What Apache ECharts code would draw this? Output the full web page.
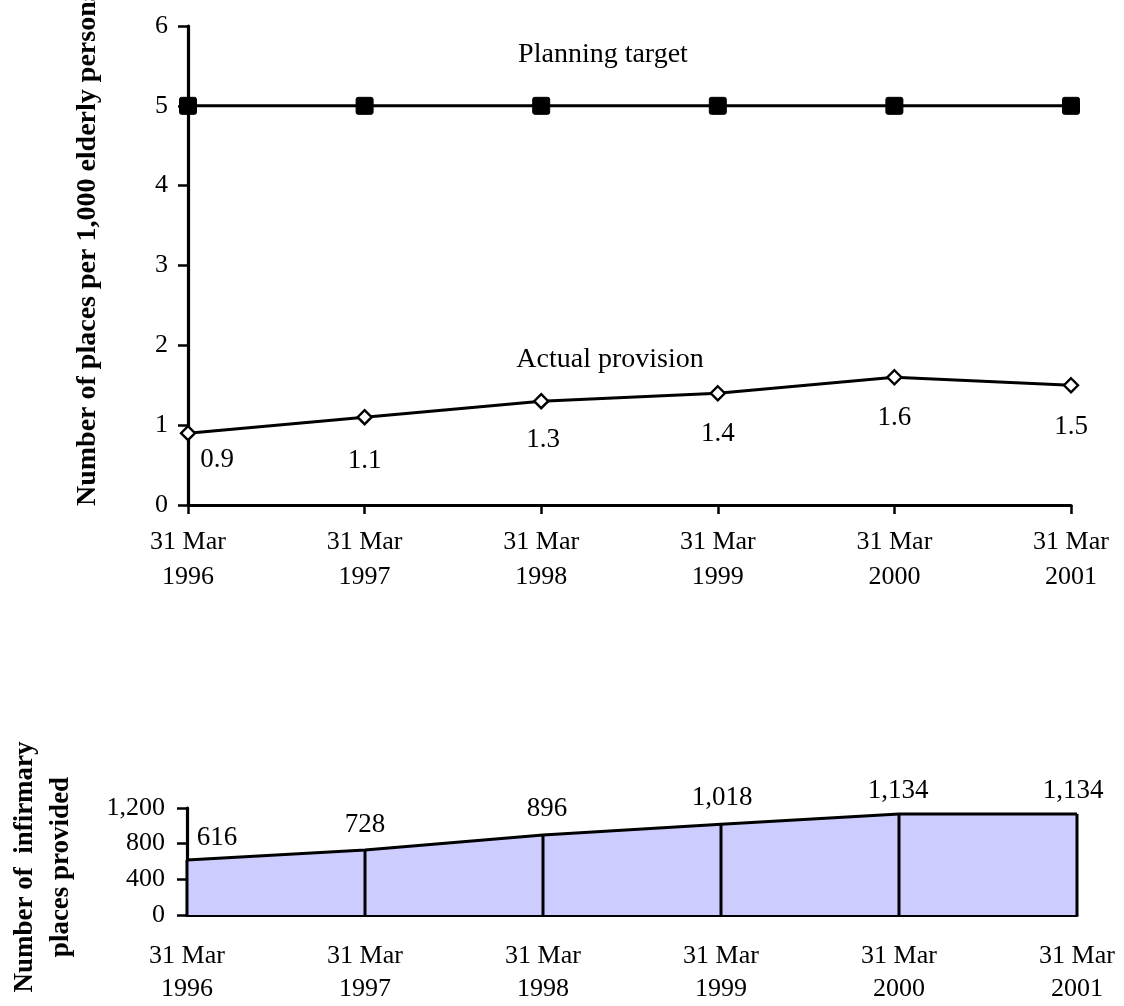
<!DOCTYPE html>
<html>
<head>
<meta charset="utf-8">
<title>Infirmary places for elderly persons</title>
<script src="https://cdn.jsdelivr.net/npm/echarts@6/dist/echarts.min.js"></script>
<style>
  html, body { margin: 0; padding: 0; background: #fff; }
  #chart { width: 1124px; height: 1006px; }
</style>
</head>
<body>
<div id="chart"></div>
<script>
// Census dates (31 March of each year)
const categories = ['31 Mar\n1996', '31 Mar\n1997', '31 Mar\n1998', '31 Mar\n1999', '31 Mar\n2000', '31 Mar\n2001'];

// Places per 1,000 elderly persons
const planningTarget = [5, 5, 5, 5, 5, 5];
const actualProvision = [0.9, 1.1, 1.3, 1.4, 1.6, 1.5];

// Number of infirmary places provided
const placesProvided = [616, 728, 896, 1018, 1134, 1134];

// Axis ticks
const rateTicks = [0, 1, 2, 3, 4, 5, 6];
const placesTicks = [0, 400, 800, 1200];

const FONT = '"Liberation Serif", "Times New Roman", serif';
const BLACK = '#000';

// Square marker with slightly softened corners
const SQUARE = 'path://M1.2,0H8.8Q10,0 10,1.2V8.8Q10,10 8.8,10H1.2Q0,10 0,8.8V1.2Q0,0 1.2,0Z';

// Label nudges for the upper line's values (dx, dy from the marker centre)
const rateLabelOffsets = [[29, 27], [0, 44], [2, 39], [0, 41], [0, 41], [0, 42]];
// Label nudges for the lower area's values
const placesLabelOffsets = [[30, 0], [0, -3], [4, -4], [1, -4], [-1, 0], [-4, 0]];

function fmtThousands(v) {
  return String(v).replace(/\B(?=(\d{3})+(?!\d))/g, ',');
}

const chart = echarts.init(document.getElementById('chart'), null, { renderer: 'canvas' });

const axisLineStyle = { color: BLACK, width: 3.2 };

const option = {
  animation: false,
  backgroundColor: '#fff',
  textStyle: { fontFamily: FONT, color: BLACK },
  grid: [
    { left: 188, right: 53, top: 26, height: 479, containLabel: false },
    { left: 187, right: 47, top: 808, height: 112, containLabel: false }
  ],
  xAxis: [
    {
      gridIndex: 0,
      type: 'category',
      data: categories,
      boundaryGap: false,
      axisLine: { lineStyle: axisLineStyle },
      axisTick: { show: true, length: 9, lineStyle: { color: BLACK, width: 2.5 } },
      axisLabel: { color: BLACK, fontFamily: FONT, fontSize: 26, lineHeight: 35, margin: 20, interval: 0 },
      splitLine: { show: false }
    },
    {
      gridIndex: 1,
      type: 'category',
      data: categories,
      boundaryGap: false,
      axisLine: { lineStyle: axisLineStyle },
      axisTick: { show: false },
      axisLabel: { color: BLACK, fontFamily: FONT, fontSize: 26, lineHeight: 33, margin: 25, interval: 0 },
      splitLine: { show: false }
    }
  ],
  yAxis: [
    {
      gridIndex: 0,
      type: 'value',
      min: rateTicks[0],
      max: rateTicks[rateTicks.length - 1],
      interval: rateTicks[1] - rateTicks[0],
      axisLine: { show: true, lineStyle: axisLineStyle },
      axisTick: { show: true, length: 10, lineStyle: { color: BLACK, width: 2.5 } },
      axisLabel: { color: BLACK, fontFamily: FONT, fontSize: 26, margin: 20 },
      splitLine: { show: false }
    },
    {
      gridIndex: 1,
      type: 'value',
      min: placesTicks[0],
      max: placesTicks[placesTicks.length - 1],
      interval: placesTicks[1] - placesTicks[0],
      axisLine: { show: true, lineStyle: axisLineStyle },
      axisTick: { show: true, length: 10, lineStyle: { color: BLACK, width: 2.5 } },
      axisLabel: { color: BLACK, fontFamily: FONT, fontSize: 26, margin: 22, formatter: fmtThousands },
      splitLine: { show: false }
    }
  ],
  series: [
    {
      name: 'Planning target',
      type: 'line',
      xAxisIndex: 0,
      yAxisIndex: 0,
      data: planningTarget,
      symbol: SQUARE,
      symbolSize: 17,
      lineStyle: { color: BLACK, width: 3 },
      itemStyle: { color: BLACK, borderColor: BLACK },
      z: 5
    },
    {
      name: 'Actual provision',
      type: 'line',
      xAxisIndex: 0,
      yAxisIndex: 0,
      data: actualProvision.map((v, i) => ({
        value: v,
        label: { offset: rateLabelOffsets[i] }
      })),
      symbol: 'diamond',
      symbolSize: 14,
      showAllSymbol: true,
      lineStyle: { color: BLACK, width: 3 },
      itemStyle: { color: '#fff', borderColor: BLACK, borderWidth: 2.4 },
      label: {
        show: true,
        position: 'inside',
        color: BLACK,
        fontFamily: FONT,
        fontSize: 27,
        formatter: p => p.value.toFixed(1)
      },
      z: 5
    },
    {
      name: 'Places area',
      type: 'line',
      xAxisIndex: 1,
      yAxisIndex: 1,
      data: placesProvided,
      symbol: 'none',
      lineStyle: { color: BLACK, width: 3 },
      areaStyle: { color: '#CCCCFF', opacity: 1 },
      z: 2
    },
    {
      name: 'Places provided',
      type: 'bar',
      xAxisIndex: 1,
      yAxisIndex: 1,
      data: placesProvided.map((v, i) => ({
        value: v,
        label: { offset: placesLabelOffsets[i] }
      })),
      barWidth: 3,
      itemStyle: { color: BLACK },
      label: {
        show: true,
        position: 'top',
        distance: 9,
        color: BLACK,
        fontFamily: FONT,
        fontSize: 27,
        formatter: p => fmtThousands(p.value)
      },
      z: 4
    }
  ],
  graphic: [
    {
      type: 'text',
      x: 603, y: 55,
      style: {
        text: 'Planning target',
        font: '28px ' + FONT,
        fill: BLACK,
        textAlign: 'center',
        textVerticalAlign: 'middle'
      }
    },
    {
      type: 'text',
      x: 610, y: 360,
      style: {
        text: 'Actual provision',
        font: '28px ' + FONT,
        fill: BLACK,
        textAlign: 'center',
        textVerticalAlign: 'middle'
      }
    },
    {
      type: 'text',
      x: 88, y: 506,
      rotation: Math.PI / 2,
      style: {
        text: 'Number of places per 1,000 elderly persons',
        font: 'bold 28px ' + FONT,
        fill: BLACK,
        textAlign: 'left',
        textVerticalAlign: 'middle'
      }
    },
    {
      type: 'text',
      x: 43, y: 867,
      rotation: Math.PI / 2,
      style: {
        text: 'Number of  infirmary\nplaces provided',
        font: 'bold 27px ' + FONT,
        lineHeight: 36,
        fill: BLACK,
        textAlign: 'center',
        textVerticalAlign: 'middle'
      }
    }
  ]
};

chart.setOption(option);
</script>
</body>
</html>
